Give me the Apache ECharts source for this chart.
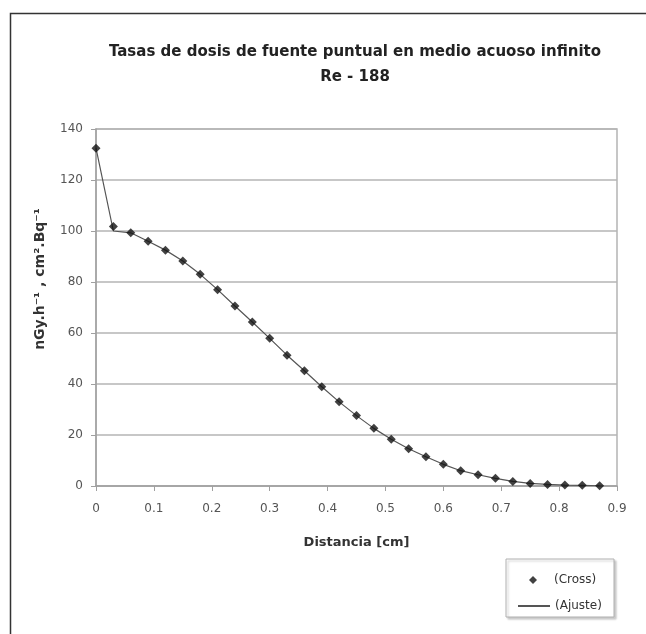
<!DOCTYPE html>
<html>
<head>
<meta charset="utf-8">
<script src="https://cdn.jsdelivr.net/npm/echarts@6/dist/echarts.min.js"></script>
<style>html,body{margin:0;padding:0;background:#fff}#c{width:646px;height:634px}</style>
</head>
<body>
<div id="c"></div>
<script>
const distancia = [0,0.03,0.06,0.09,0.12,0.15,0.18,0.21,0.24,0.27,0.30,0.33,0.36,0.39,0.42,0.45,0.48,0.51,0.54,0.57,0.60,0.63,0.66,0.69,0.72,0.75,0.78,0.81,0.84,0.87];
const cross = [132.5,101.8,99.3,96,92.5,88.2,83,77,70.6,64.3,57.9,51.3,45.2,38.9,33,27.6,22.6,18.3,14.6,11.5,8.5,6.0,4.4,3.0,1.8,1.0,0.6,0.35,0.25,0.1];
const ajuste = [132.5,100.0,99.3,96,92.5,88.2,83,77,70.6,64.3,57.9,51.3,45.2,38.9,33,27.6,22.6,18.3,14.6,11.5,8.5,6.0,4.4,3.0,1.8,1.0,0.6,0.35,0.25,0.1];
const xTicks = [0,0.1,0.2,0.3,0.4,0.5,0.6,0.7,0.8,0.9];
const yTicks = [0,20,40,60,80,100,120,140];
const titleLines = ['Tasas de dosis de fuente puntual en medio acuoso infinito', 'Re - 188'];
const xName = 'Distancia [cm]';
const yName = 'nGy.h\u207B\u00B9 , cm\u00B2.Bq\u207B\u00B9';

const font = 'DejaVu Sans, Liberation Sans, Arial, sans-serif';
const chart = echarts.init(document.getElementById('c'));
chart.setOption({
  animation: false,
  backgroundColor: '#fff',
  textStyle: {fontFamily: font},
  graphic: [
    {type: 'rect', left: 8, top: 11, shape: {width: 700, height: 700},
     style: {fill: 'none', stroke: '#333', lineWidth: 1.5}, silent: true, z: 0},
    {type: 'rect', x: 506, y: 559, shape: {width: 108, height: 58},
     style: {fill: '#fff', stroke: '#b0b0b0', lineWidth: 1, shadowBlur: 2, shadowOffsetX: 2, shadowOffsetY: 2, shadowColor: 'rgba(0,0,0,0.2)'}, silent: true, z: 0},
    {type: 'text', x: 40, y: 279, rotation: Math.PI / 2, silent: true,
     style: {text: yName, x: 0, y: 0, align: 'center', verticalAlign: 'middle',
             fontFamily: font, fontSize: 14, fontWeight: 'bold', fill: '#333'}}
  ],
  title: {
    text: titleLines.join('\n'),
    left: 350, top: 35, textAlign: 'center',
    textStyle: {fontFamily: font, fontSize: 15, fontWeight: 'bold', color: '#222', lineHeight: 25}
  },
  grid: {left: 96, right: 29, top: 129, bottom: 148, show: true, borderColor: '#b4b4b4', borderWidth: 1.5},
  xAxis: {
    type: 'value', min: xTicks[0], max: xTicks[xTicks.length-1], interval: 0.1,
    name: xName, nameLocation: 'middle', nameGap: 50,
    nameTextStyle: {fontFamily: font, fontSize: 13, fontWeight: 'bold', color: '#333'},
    axisLine: {lineStyle: {color: '#a0a0a0', width: 1.5}},
    axisTick: {show: true, length: 5, lineStyle: {color: '#a0a0a0'}},
    axisLabel: {color: '#555', fontSize: 12, margin: 17, formatter: v => v === 0 ? '0' : v.toFixed(1)},
    splitLine: {show: false}
  },
  yAxis: {
    type: 'value', min: yTicks[0], max: yTicks[yTicks.length-1], interval: 20,
    axisLine: {show: true, lineStyle: {color: '#a0a0a0', width: 1.5}},
    axisTick: {show: true, length: 5, lineStyle: {color: '#a0a0a0'}},
    axisLabel: {color: '#555', fontSize: 12, margin: 13},
    splitLine: {show: true, lineStyle: {color: '#b4b4b4', width: 1.5}}
  },
  legend: [
    {
      left: 524, top: 569, itemWidth: 8, itemHeight: 8,
      textStyle: {fontFamily: font, fontSize: 12, color: '#333', padding: [0, 0, 0, 12]},
      data: [{name: '(Cross)', icon: 'diamond'}]
    },
    {
      left: 513, top: 595, itemWidth: 32, itemHeight: 2,
      textStyle: {fontFamily: font, fontSize: 12, color: '#333'},
      data: [{name: '(Ajuste)', icon: 'rect'}]
    }
  ],
  series: [
    {
      name: '(Ajuste)', type: 'line', data: distancia.map((d, i) => [d, ajuste[i]]),
      symbol: 'none', lineStyle: {color: '#555', width: 1.2}, itemStyle: {color: '#555'}, z: 2
    },
    {
      name: '(Cross)', type: 'scatter', data: distancia.map((d, i) => [d, cross[i]]),
      symbol: 'diamond', symbolSize: 9, itemStyle: {color: '#111'}, z: 3
    }
  ]
});
</script>
</body>
</html>
